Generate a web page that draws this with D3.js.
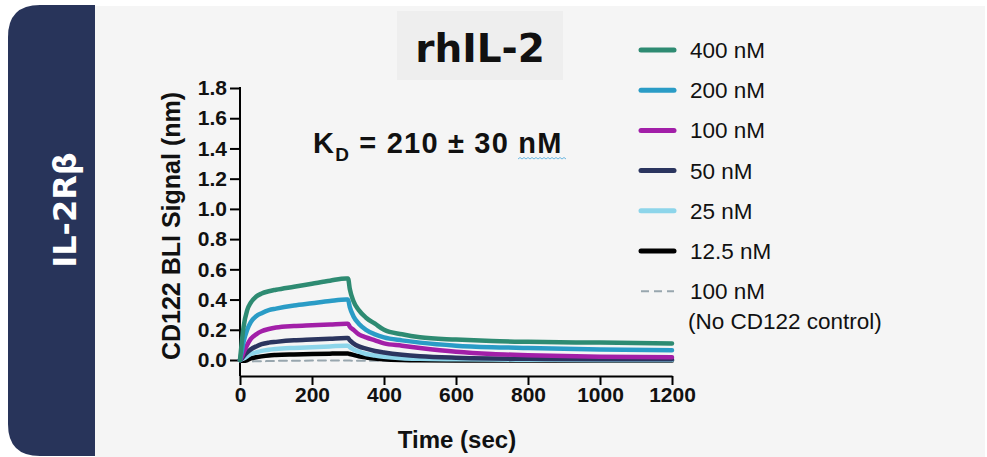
<!DOCTYPE html>
<html>
<head>
<meta charset="utf-8">
<script src="https://cdn.jsdelivr.net/npm/d3@7"></script>
<style>
  body { margin: 0; background: #fff; }
  svg { display: block; }
</style>
</head>
<body>
<svg id="Viz"></svg>
<script>
// sample times (sec) and BLI signal (nm)
let times = [0, 5, 10, 20, 30, 45, 60, 80, 100, 150, 200, 250, 295, 300, 305, 315, 330, 350, 375, 400, 450, 500, 600, 700, 800, 1000, 1200];

let nM400 = [0, 0.12, 0.22, 0.33, 0.38, 0.42, 0.44, 0.455, 0.465, 0.485, 0.505, 0.525, 0.54, 0.54, 0.47, 0.39, 0.33, 0.28, 0.24, 0.2, 0.17, 0.15, 0.135, 0.125, 0.12, 0.115, 0.11];
let nM200 = [0, 0.06, 0.12, 0.2, 0.25, 0.29, 0.31, 0.33, 0.34, 0.36, 0.375, 0.39, 0.4, 0.4, 0.35, 0.29, 0.24, 0.2, 0.17, 0.15, 0.13, 0.115, 0.095, 0.085, 0.08, 0.07, 0.065];
let nM100 = [0, 0.02, 0.05, 0.1, 0.14, 0.17, 0.19, 0.205, 0.215, 0.225, 0.23, 0.235, 0.24, 0.24, 0.22, 0.2, 0.17, 0.15, 0.13, 0.11, 0.095, 0.08, 0.055, 0.04, 0.032, 0.022, 0.018];
let nM50 = [0, 0.01, 0.025, 0.05, 0.07, 0.09, 0.105, 0.115, 0.12, 0.13, 0.135, 0.14, 0.145, 0.145, 0.13, 0.11, 0.09, 0.075, 0.06, 0.05, 0.035, 0.025, 0.015, 0.01, 0.008, 0.005, 0.005];
let nM25 = [0, 0.005, 0.01, 0.025, 0.04, 0.05, 0.06, 0.068, 0.073, 0.08, 0.085, 0.09, 0.095, 0.095, 0.085, 0.07, 0.055, 0.04, 0.03, 0.022, 0.012, 0.008, 0.005, 0.003, 0.002, 0, 0];
let nM12 = [0, -0.005, -0.005, 0, 0.01, 0.018, 0.024, 0.03, 0.033, 0.037, 0.04, 0.042, 0.043, 0.043, 0.04, 0.034, 0.025, 0.017, 0.01, 0.005, 0, -0.002, -0.003, -0.003, -0.003, -0.003, -0.003];
let control = [-0.01, -0.012, -0.012, -0.01, -0.01, -0.008, -0.008, -0.007, -0.006, -0.005, -0.004, -0.003, -0.003, -0.003, -0.004, -0.005, -0.005, -0.005, -0.005, -0.005, -0.006, -0.006, -0.006, -0.006, -0.006, -0.006, -0.006];

let seriesNames = ["400 nM", "200 nM", "100 nM", "50 nM", "25 nM", "12.5 nM", "100 nM"];
let seriesValues = [nM400, nM200, nM100, nM50, nM25, nM12, control];
let seriesColors = ["#2e8b72", "#2a9cc6", "#a21fa8", "#2b355f", "#8dd5ea", "#000000", "#98a6ae"];

let yTicks = [0, 0.2, 0.4, 0.6, 0.8, 1.0, 1.2, 1.4, 1.6, 1.8];
let xTicks = [0, 200, 400, 600, 800, 1000, 1200];

let Width = 987, Height = 457;
let font = "'Liberation Sans', Arial, sans-serif";

let vizArea = d3.select('#Viz')
  .attr("width", Width)
  .attr("height", Height);

// backgrounds
vizArea.append("rect")
  .attr("x", 95).attr("y", 6)
  .attr("width", 890).attr("height", 451)
  .attr("fill", "#f5f5f5");

let r = 32;
vizArea.append("path")
  .attr("d", "M95,5 L" + (8 + r) + ",5 Q8,5 8," + (5 + r) + " L8," + (456 - r) + " Q8,456 " + (8 + r) + ",456 L95,456 Z")
  .attr("fill", "#28345a");

vizArea.append("text")
  .attr("transform", "translate(76,210) rotate(-90)")
  .attr("text-anchor", "middle")
  .attr("font-family", "'DejaVu Sans', Verdana, sans-serif")
  .attr("font-weight", "bold")
  .attr("font-size", 32)
  .attr("fill", "#fff")
  .text("IL-2Rβ");

// title box
vizArea.append("rect")
  .attr("x", 397).attr("y", 11)
  .attr("width", 166).attr("height", 69)
  .attr("fill", "#eeeeee");

vizArea.append("text")
  .attr("x", 480).attr("y", 62)
  .attr("text-anchor", "middle")
  .attr("font-family", "'DejaVu Sans', Verdana, sans-serif")
  .attr("font-weight", "bold")
  .attr("font-size", 39)
  .attr("fill", "#111")
  .text("rhIL-2");

// scales
let xScale = d3.scaleLinear().domain([0, 1200]).range([240, 672]);
let yScale = d3.scaleLinear().domain([0, 1.8]).range([360, 88]);
let xAxisY = 376;

// y axis
let yAxis = vizArea.append("g")
  .attr("transform", "translate(240,0)")
  .call(d3.axisLeft(yScale).tickValues(yTicks).tickFormat(d3.format(".1f")).tickSize(10).tickPadding(3));
yAxis.select(".domain").remove();
yAxis.selectAll("line").attr("stroke", "#000").attr("stroke-width", 2);
yAxis.selectAll("text")
  .attr("font-family", font).attr("font-weight", "bold").attr("font-size", 21).attr("fill", "#111");

vizArea.append("line")
  .attr("x1", 240).attr("x2", 240)
  .attr("y1", yScale(1.8) - 1).attr("y2", xAxisY)
  .attr("stroke", "#000").attr("stroke-width", 2);

// x axis
let xAxis = vizArea.append("g")
  .attr("transform", "translate(0," + xAxisY + ")")
  .call(d3.axisBottom(xScale).tickValues(xTicks).tickFormat(d3.format("d")).tickSize(9).tickPadding(2).tickSizeOuter(0));
xAxis.select(".domain").attr("stroke", "#000").attr("stroke-width", 2);
xAxis.selectAll("line").attr("stroke", "#000").attr("stroke-width", 2);
xAxis.selectAll("text")
  .attr("font-family", font).attr("font-weight", "bold").attr("font-size", 21).attr("fill", "#111");

// axis titles
vizArea.append("text")
  .attr("transform", "translate(180,226) rotate(-90)")
  .attr("text-anchor", "middle")
  .attr("font-family", font).attr("font-weight", "bold").attr("font-size", 25)
  .attr("fill", "#111")
  .text("CD122 BLI Signal (nm)");

vizArea.append("text")
  .attr("x", 457).attr("y", 448)
  .attr("text-anchor", "middle")
  .attr("font-family", font).attr("font-weight", "bold").attr("font-size", 24)
  .attr("fill", "#111")
  .text("Time (sec)");

// KD annotation
let kd = vizArea.append("text")
  .attr("x", 313).attr("y", 153)
  .attr("font-family", font).attr("font-weight", "bold").attr("font-size", 29)
  .attr("letter-spacing", 1.2)
  .attr("fill", "#111");
kd.append("tspan").text("K");
kd.append("tspan").attr("font-size", 19).attr("dy", 8).text("D");
kd.append("tspan").attr("dy", -8).text(" = 210 ± 30 nM");

let wave = "M518,159";
for (let i = 0; i < 12; i++) {
  wave += " l2,-1.5 l2,1.5";
}
vizArea.append("path")
  .attr("d", wave)
  .attr("fill", "none")
  .attr("stroke", "#6cb8e2")
  .attr("stroke-width", 1);

// traces
let drawlines = d3.line()
  .x(function (d) { return xScale(d.t); })
  .y(function (d) { return yScale(d.v); })
  .curve(d3.curveMonotoneX);

let order = [6, 5, 4, 3, 2, 1, 0];
order.forEach(function (i) {
  let pts = times.map(function (t, j) { return { t: t, v: seriesValues[i][j] }; });
  vizArea.append("path")
    .datum(pts)
    .attr("fill", "none")
    .attr("stroke", seriesColors[i])
    .attr("stroke-width", i == 6 ? 2 : 4.5)
    .attr("stroke-dasharray", i == 6 ? "8,5" : null)
    .attr("stroke-linejoin", "round")
    .attr("stroke-linecap", "round")
    .attr("d", drawlines);
});

// legend
let legend = vizArea.append("g");
seriesNames.forEach(function (name, i) {
  let ly = 50 + i * 40.2;
  legend.append("line")
    .attr("x1", 641).attr("x2", 674)
    .attr("y1", ly).attr("y2", ly)
    .attr("stroke", seriesColors[i])
    .attr("stroke-width", i == 6 ? 2 : 5)
    .attr("stroke-linecap", i == 6 ? "butt" : "round")
    .attr("stroke-dasharray", i == 6 ? "8,5" : null);
  legend.append("text")
    .attr("x", 690).attr("y", ly + 8)
    .attr("font-family", font).attr("font-size", 22.5)
    .attr("fill", "#111")
    .text(name);
});
legend.append("text")
  .attr("x", 688).attr("y", 50 + 6 * 40.2 + 38)
  .attr("font-family", font).attr("font-size", 22.5)
  .attr("fill", "#111")
  .text("(No CD122 control)");
</script>
</body>
</html>
